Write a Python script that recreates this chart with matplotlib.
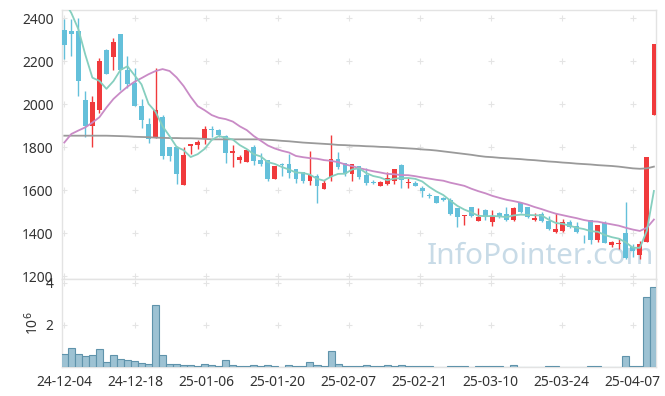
import numpy as np
import pandas as pd
import matplotlib
matplotlib.use('Agg')
import matplotlib.pyplot as plt

plt.rcParams['font.family'] = ['Noto Sans', 'DejaVu Sans']

tick_labels = ['24-12-04', '24-12-18', '25-01-06', '25-01-20', '25-02-07',
               '25-02-21', '25-03-10', '25-03-24', '25-04-07']

open_ = [2345, 2340, 2340, 2020, 1900, 1975, 2255, 2220, 2325, 2160,
         2100, 1990, 1910, 1845, 1940, 1800, 1800, 1625, 1808, 1812,
         1837, 1885, 1880, 1853, 1775, 1742, 1732, 1800, 1741, 1741,
         1654, 1722, 1722, 1698, 1684, 1643, 1667, 1608, 1660, 1744,
         1725, 1674, 1713, 1671, 1639, 1622, 1630, 1645, 1718, 1632,
         1632, 1609, 1576, 1574, 1563, 1556, 1516, 1480, 1521, 1457,
         1508, 1454, 1493, 1490, 1460, 1542, 1521, 1460, 1490, 1459,
         1406, 1412, 1453, 1436, 1393, 1462, 1369, 1447, 1343, 1352,
         1400, 1335, 1300, 1361, 1950]
high = [2395, 2395, 2400, 2060, 2040, 2215, 2258, 2310, 2328, 2225,
        2170, 2025, 1935, 2170, 1950, 1802, 1805, 1800, 1816, 1835,
        1898, 1898, 1885, 1855, 1810, 1765, 1790, 1812, 1772, 1742,
        1714, 1726, 1770, 1699, 1686, 1783, 1675, 1650, 1857, 1780,
        1727, 1724, 1714, 1702, 1648, 1641, 1687, 1700, 1720, 1656,
        1645, 1620, 1587, 1575, 1570, 1562, 1518, 1487, 1523, 1516,
        1512, 1508, 1500, 1521, 1520, 1545, 1524, 1493, 1497, 1478,
        1496, 1467, 1462, 1450, 1393, 1463, 1440, 1455, 1366, 1377,
        1544, 1350, 1366, 1757, 2282]
low = [2210, 2225, 2040, 1850, 1800, 1960, 2140, 2160, 2065, 2075,
       1990, 1890, 1820, 1843, 1745, 1735, 1630, 1625, 1770, 1790,
       1815, 1848, 1850, 1725, 1710, 1727, 1730, 1718, 1712, 1645,
       1653, 1665, 1655, 1636, 1632, 1625, 1543, 1606, 1645, 1700,
       1665, 1645, 1651, 1625, 1628, 1621, 1625, 1628, 1610, 1612,
       1618, 1570, 1563, 1542, 1548, 1487, 1431, 1438, 1476, 1455,
       1462, 1434, 1470, 1458, 1458, 1495, 1470, 1455, 1453, 1413,
       1400, 1406, 1424, 1400, 1353, 1350, 1361, 1353, 1338, 1326,
       1282, 1288, 1279, 1360, 1948]
close = [2275, 2325, 2110, 1900, 2010, 2200, 2140, 2290, 2160, 2095,
         1992, 1925, 1840, 1975, 1758, 1760, 1675, 1765, 1815, 1825,
         1885, 1880, 1857, 1775, 1783, 1756, 1787, 1738, 1722, 1652,
         1713, 1716, 1680, 1652, 1643, 1671, 1622, 1636, 1746, 1706,
         1675, 1722, 1663, 1636, 1636, 1640, 1659, 1699, 1648, 1640,
         1620, 1597, 1573, 1543, 1556, 1488, 1477, 1486, 1478, 1477,
         1478, 1482, 1478, 1460, 1516, 1497, 1475, 1471, 1455, 1420,
         1419, 1453, 1428, 1408, 1390, 1369, 1439, 1354, 1357, 1355,
         1283, 1315, 1350, 1756, 2280]
volume_m = [0.64, 0.91, 0.64, 0.50, 0.55, 0.87, 0.22, 0.55, 0.40, 0.32,
            0.27, 0.17, 0.12, 2.97, 0.55, 0.12, 0.12, 0.09, 0.09, 0.04,
            0.12, 0.09, 0.04, 0.32, 0.09, 0.04, 0.04, 0.09, 0.04, 0.09,
            0.04, 0.01, 0.09, 0.04, 0.04, 0.22, 0.09, 0.04, 0.78, 0.12,
            0.04, 0.04, 0.04, 0.09, 0.04, 0.04, 0.09, 0.04, 0.09, 0.04,
            0.04, 0.04, 0.04, 0.0, 0.0, 0.04, 0.04, 0.04, 0.0, 0.04,
            0.04, 0.04, 0.04, 0.0, 0.09, 0.0, 0.0, 0.0, 0.0, 0.04,
            0.04, 0.0, 0.0, 0.0, 0.0, 0.04, 0.04, 0.0, 0.0, 0.0,
            0.51, 0.04, 0.04, 3.32, 3.80]
ma5_head = [2480, 2425, 2350, 2230]
ma20_head = [1822, 1862, 1878, 1893, 1915, 1940, 1985, 2025, 2055, 2082,
             2105, 2122, 2140, 2155, 2164, 2155, 2125, 2085, 2035]
ma_long = [1854, 1854, 1854, 1854, 1854, 1854, 1854, 1853, 1852, 1851,
           1849, 1848, 1847, 1845, 1844, 1843, 1843, 1842, 1842, 1841,
           1839, 1837, 1837, 1837, 1837, 1837, 1837, 1837, 1837, 1835,
           1833, 1830, 1828, 1825, 1822, 1820, 1818, 1816, 1814, 1811,
           1810, 1808, 1807, 1805, 1804, 1802, 1801, 1799, 1797, 1795,
           1793, 1790, 1788, 1785, 1781, 1777, 1773, 1769, 1765, 1760,
           1756, 1754, 1751, 1749, 1747, 1745, 1742, 1740, 1737, 1734,
           1732, 1729, 1727, 1724, 1722, 1720, 1717, 1715, 1713, 1710,
           1706, 1702, 1700, 1702, 1710]

o = np.array(open_, float)
h = np.array(high, float)
l = np.array(low, float)
c = np.array(close, float)
n = len(c)
x = np.arange(n)

cs = pd.Series(c)
ma5 = cs.rolling(5).mean().to_numpy()
ma5[:4] = ma5_head
ma20 = cs.rolling(20).mean().to_numpy()
ma20[:19] = ma20_head

RED = '#f03a3c'
BLUE = '#64c0da'

fig = plt.figure(figsize=(6.65, 3.96), dpi=100)
ax = fig.add_axes([62 / 665, 1 - 279 / 396, 594 / 665, 269 / 396])
axv = fig.add_axes([62 / 665, 1 - 367 / 396, 594 / 665, 88 / 396], sharex=ax)

up = c >= o
colors = np.where(up, RED, BLUE)
body_bot = np.minimum(o, c)
body_h = np.maximum(np.abs(c - o), 4)

ax.vlines(x, l, h, colors=colors, linewidth=1.0, zorder=3)
ax.bar(x, body_h, bottom=body_bot, width=0.68, color=colors, linewidth=0, zorder=4)

ax.plot(x, ma_long, color='#9a9a9a', lw=1.3, zorder=5)
ax.plot(x, ma20, color='#c98bc6', lw=1.3, zorder=5)
ax.plot(x, ma5, color='#86cfbf', lw=1.3, zorder=5)

ax.text(0.806, 0.085, 'InfoPointer.com', transform=ax.transAxes,
        fontsize=21.5, color='#c8dbe7', ha='center', va='center', zorder=1)

tick_pos = np.linspace(0, 81, len(tick_labels))
yt = [1200, 1400, 1600, 1800, 2000, 2200, 2400]
ax.set_ylim(1187, 2439)
ax.set_xlim(-0.33, 84.3)
ax.set_yticks(yt)
ax.set_yticklabels([str(v) for v in yt])
for xp in tick_pos:
    ax.scatter([xp] * len(yt), yt, marker='+', s=22, color='#e4e4e4',
               linewidths=0.8, zorder=0)

axv.bar(x, volume_m, width=1.0, color='#9dc2d3', edgecolor='#5f93ab',
        linewidth=0.8, zorder=3)
axv.set_ylim(0, 4.19)
axv.set_yticks([2, 4])
axv.set_yticklabels(['2', '4'])
axv.set_ylabel('10$^6$', fontsize=10, color='#333333', labelpad=3)
for xp in tick_pos:
    axv.scatter([xp, xp], [2, 4], marker='+', s=22, color='#e4e4e4',
                linewidths=0.8, zorder=0)

axv.set_xticks(tick_pos)
axv.set_xticklabels(tick_labels)
plt.setp(ax.get_xticklabels(), visible=False)

for a in (ax, axv):
    for sp in a.spines.values():
        sp.set_color('#e3e3e3')
        sp.set_linewidth(1.0)
    a.tick_params(axis='both', length=0, labelsize=10, colors='#333333', pad=6)
ax.tick_params(axis='x', length=0)

fig.savefig('out.png', dpi=100)
